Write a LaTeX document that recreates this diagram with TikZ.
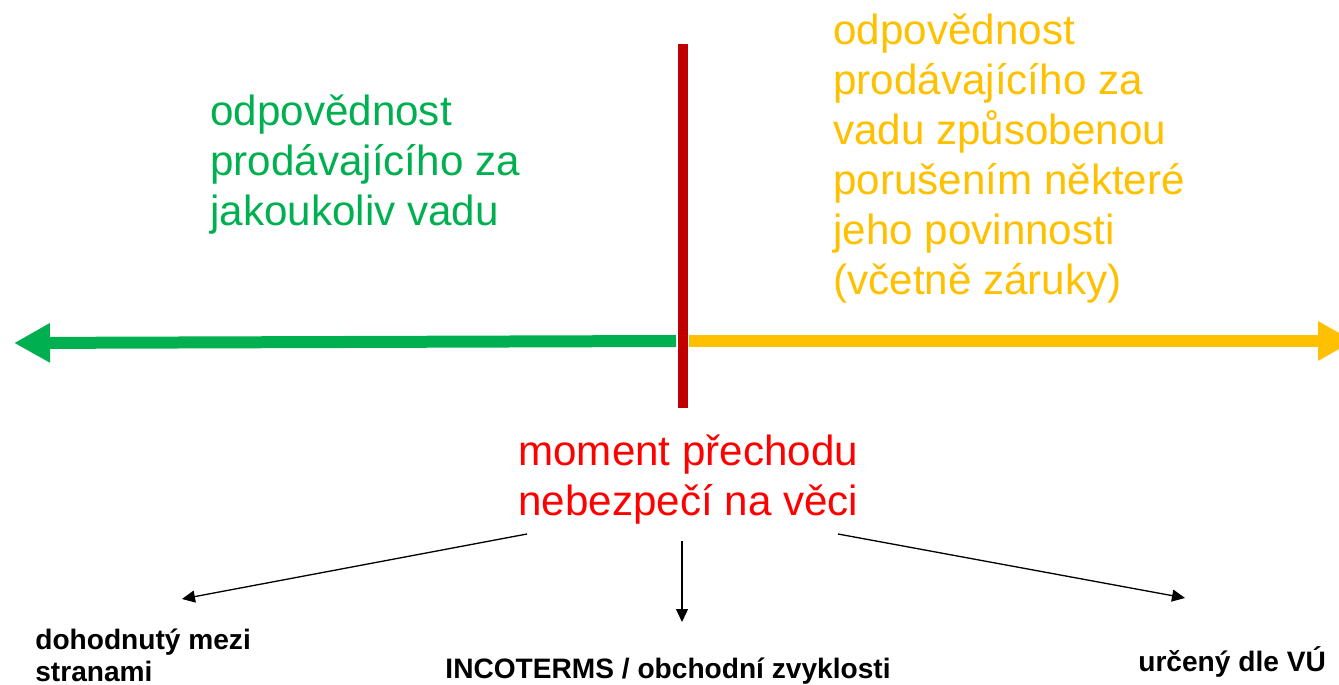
\documentclass[tikz,border=0pt]{standalone}
\usepackage{fontspec}
\setmainfont{Liberation Sans}
\usetikzlibrary{arrows.meta}
\definecolor{grn}{HTML}{00B050}
\definecolor{ylw}{HTML}{FFC000}
\definecolor{dred}{HTML}{C00000}
\begin{document}
\begin{tikzpicture}[x=0.02cm, y=-0.02cm,
    big/.style={font=\fontsize{24}{28.5}\selectfont, align=left, anchor=base west, inner sep=0pt},
    small/.style={font=\bfseries\fontsize{16}{18}\selectfont, align=left, inner sep=0pt},
    axis/.style={line width=0.24cm, -{Triangle[length=7.2mm, width=7.4mm]}},
    pointer/.style={line width=0.75pt, -{Triangle[length=2.6mm, width=2.4mm]}}]
    \useasboundingbox (0,0) rectangle (1339,685);
    \coordinate (gstart) at (676,341);
    \coordinate (gend) at (14,343);
    \coordinate (ystart) at (689,341);
    \coordinate (yend) at (1354,341);
    \coordinate (btop) at (683,44);
    \coordinate (bbot) at (683,408);
    \draw[axis, grn] (gstart) -- (gend);
    \draw[axis, ylw] (ystart) -- (yend);
    \draw[line width=0.2cm, dred] (btop) -- (bbot);
    \node[big, text=grn] (buyer) at (210,226) {odpovědnost\\prodávajícího za\\jakoukoliv vadu};
    \node[big, text=ylw] (seller) at (833,295) {odpovědnost\\prodávajícího za\\vadu způsobenou\\porušením některé\\jeho povinnosti\\(včetně záruky)};
    \node[big, text=red] (moment) at (518,516) {moment přechodu\\nebezpečí na věci};
    \node[small, anchor=base west] (dohoda) at (35,681) {dohodnutý mezi\\stranami};
    \node[small, anchor=base] (inco) at (668,678) {INCOTERMS / obchodní zvyklosti};
    \node[small, anchor=base west] (vu) at (1138,671) {určený dle VÚ};
    \coordinate (l1) at (527,534);
    \coordinate (l2) at (182,599);
    \coordinate (m1) at (682,541);
    \coordinate (m2) at (682,622);
    \coordinate (r1) at (838,534);
    \coordinate (r2) at (1185,598);
    \draw[pointer] (l1) -- (l2);
    \draw[pointer] (m1) -- (m2);
    \draw[pointer] (r1) -- (r2);
\end{tikzpicture}
\end{document}
